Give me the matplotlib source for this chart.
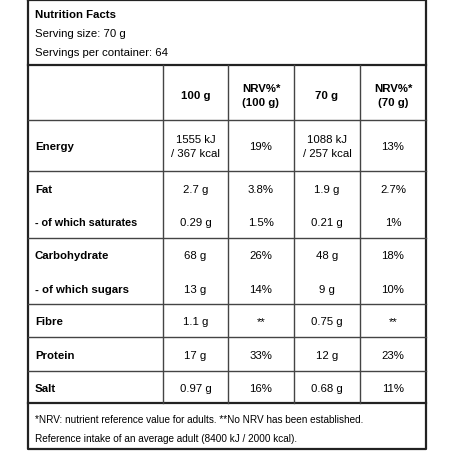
import matplotlib.pyplot as plt

plt.rcParams['font.family'] = ['Liberation Sans', 'DejaVu Sans']

header_lines = ["Serving size: 70 g", "Servings per container: 64"]
col_heads = ["100 g", "NRV%*\n(100 g)", "70 g", "NRV%*\n(70 g)"]
nutrients = ["Energy", "Fat", "- of which saturates", "Carbohydrate",
             "- of which sugars", "Fibre", "Protein", "Salt"]
per_100g = ["1555 kJ\n/ 367 kcal", "2.7 g", "0.29 g", "68 g", "13 g", "1.1 g", "17 g", "0.97 g"]
nrv_100g = ["19%", "3.8%", "1.5%", "26%", "14%", "**", "33%", "16%"]
per_70g = ["1088 kJ\n/ 257 kcal", "1.9 g", "0.21 g", "48 g", "9 g", "0.75 g", "12 g", "0.68 g"]
nrv_70g = ["13%", "2.7%", "1%", "18%", "10%", "**", "23%", "11%"]
footnote = ["*NRV: nutrient reference value for adults. **No NRV has been established.",
            "Reference intake of an average adult (8400 kJ / 2000 kcal)."]

row_y = [147, 190, 223, 256, 290, 322, 356, 389]
col_x = [28, 163, 228, 294, 360, 426]
hlines = [121, 172, 239, 305, 338, 372]

fig = plt.figure(figsize=(4.52, 4.52), dpi=100)
ax = fig.add_axes([0, 0, 1, 1])
ax.set_xlim(0, 452)
ax.set_ylim(452, 0)
ax.axis('off')

lw = 1.0
ax.plot([28, 426, 426, 28, 28], [1, 1, 450, 450, 1], color='#222', lw=1.6)
ax.plot([28, 426], [66, 66], color='#222', lw=1.6)
ax.plot([28, 426], [404, 404], color='#222', lw=1.6)
for x in col_x[1:-1]:
    ax.plot([x, x], [66, 404], color='#444', lw=lw)
for y in hlines:
    ax.plot([28, 426], [y, y], color='#444', lw=lw)

fs = 8.2
ax.text(35, 15, "Nutrition Facts", fontsize=fs, fontweight='bold', va='center')
for i, t in enumerate(header_lines):
    ax.text(35, 34 + i * 19, t, fontsize=fs, va='center')

for i, t in enumerate(col_heads):
    cx = (col_x[i + 1] + col_x[i + 2]) / 2
    ax.text(cx, 96, t, fontsize=fs, fontweight='bold', ha='center', va='center',
            linespacing=1.5)

for j, name in enumerate(nutrients):
    y = row_y[j]
    ax.text(35, y, name, fontsize=fs - 0.4 if j == 2 else fs, fontweight='bold', va='center')
    for i, col in enumerate([per_100g, nrv_100g, per_70g, nrv_70g]):
        cx = (col_x[i + 1] + col_x[i + 2]) / 2
        ax.text(cx, y, col[j], fontsize=fs, ha='center', va='center', linespacing=1.5)

for i, t in enumerate(footnote):
    ax.text(35, 420 + i * 19, t, fontsize=7.2, va='center')

fig.savefig('out.png', dpi=100, facecolor='white')
